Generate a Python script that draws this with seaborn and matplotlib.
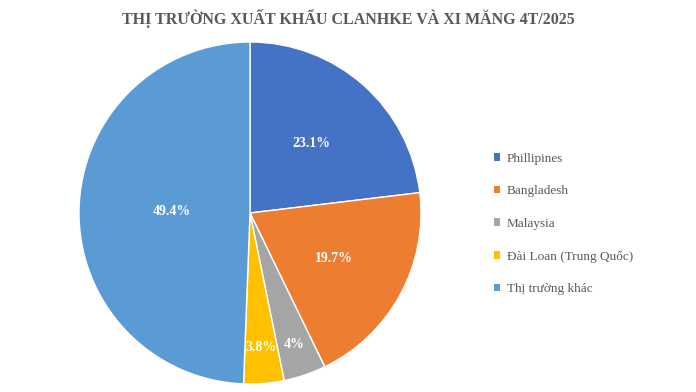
import matplotlib
matplotlib.use("Agg")
import numpy as np
import seaborn as sns
import matplotlib.pyplot as plt
from matplotlib.patches import Patch

markets = ["Phillipines", "Bangladesh", "Malaysia", "Đài Loan (Trung Quốc)", "Thị trường khác"]
shares = [23.1, 19.7, 4.0, 3.8, 49.4]
share_labels = ["23.1%", "19.7%", "4%", "3.8%", "49.4%"]
col_list = ["#4472C4", "#ED7D31", "#A5A5A5", "#FFC000", "#5B9BD5"]

sns.set_theme(style="white")
sns.set_palette(col_list)
plt.rcParams["font.family"] = ["Liberation Serif", "DejaVu Serif"]

fig = plt.figure(figsize=(6.96, 3.92), dpi=100)
ax = fig.add_axes([79 / 696, 8 / 392, 342 / 696, 342 / 392])

wedges, texts = ax.pie(shares, colors=sns.color_palette(), startangle=90, counterclock=False,
                       radius=1, wedgeprops={"edgecolor": "white", "linewidth": 1})

# label radii picked by eye to follow the original placement
label_r = [0.54, 0.56, 0.81, 0.79, 0.46]
theta = 90 - np.cumsum([0] + shares[:-1]) * 3.6 - np.array(shares) * 1.8
for t, r, lab in zip(theta, label_r, share_labels):
    ax.text(r * np.cos(np.radians(t)), r * np.sin(np.radians(t)), lab,
            ha="center", va="center", color="white", fontsize=10, fontweight="bold")

ax.set_xlim(-1, 1)
ax.set_ylim(-1, 1)
ax.set_aspect("equal")
ax.axis("off")

fig.text(0.5, 1 - 18 / 392, "THỊ TRƯỜNG XUẤT KHẨU CLANHKE VÀ XI MĂNG 4T/2025",
         ha="center", va="center", fontsize=11.5, fontweight="bold", color="#595959")

handles = [Patch(facecolor=c, edgecolor="none") for c in col_list]
fig.legend(handles, markets, loc="upper left", bbox_to_anchor=(482 / 696, 1 - 141 / 392),
           frameon=False, fontsize=9.5, labelcolor="#595959", handlelength=0.5, handleheight=0.5,
           handletextpad=0.5, labelspacing=1.55)

fig.savefig("out.png", dpi=100)
